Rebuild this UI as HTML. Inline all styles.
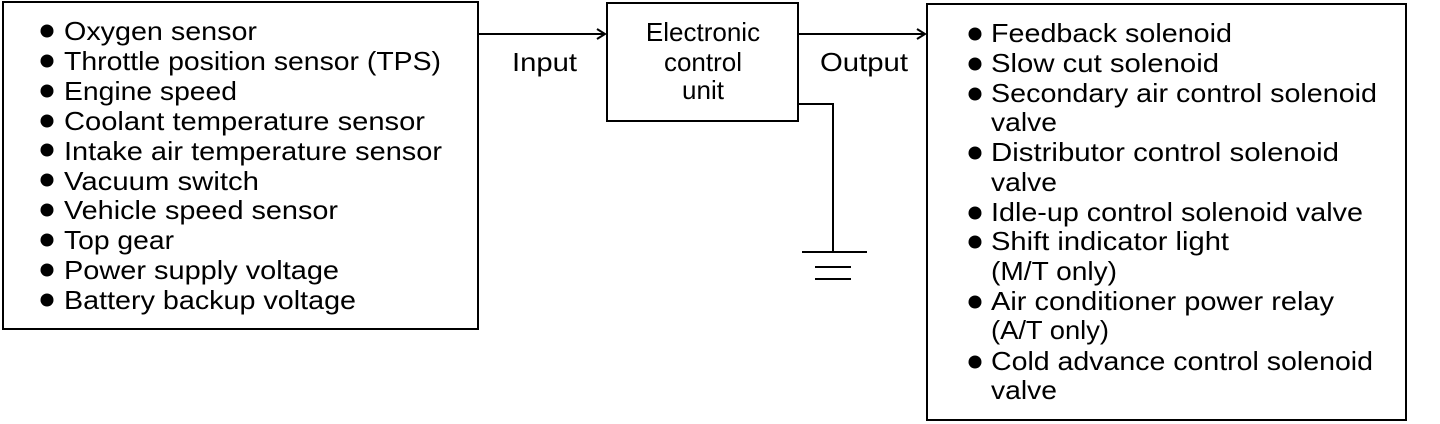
<!DOCTYPE html>
<html><head><style>html,body{margin:0;padding:0;background:#fff}svg{display:block}</style></head>
<body>
<svg width="1440" height="424" viewBox="0 0 1440 424" xmlns="http://www.w3.org/2000/svg" font-family="Liberation Sans, sans-serif" font-size="26" fill="#000">
<g fill="none" stroke="#000" stroke-width="2">
<rect x="3" y="2" width="475" height="327"/>
<rect x="607" y="3" width="191" height="118"/>
<rect x="927" y="4" width="479" height="416"/>
<line x1="478" y1="34" x2="605" y2="34"/>
<polyline points="597,29 605,34 597,39"/>
<line x1="798" y1="34" x2="925" y2="34"/>
<polyline points="917,29 925,34 917,39"/>
<polyline points="798,104 833,104 833,252"/>
<line x1="802" y1="252" x2="867" y2="252"/>
<line x1="815" y1="267" x2="851" y2="267"/>
<line x1="815" y1="279" x2="851" y2="279"/>
</g>
<g>
<circle cx="47" cy="31" r="6.5"/><circle cx="47" cy="61" r="6.5"/><circle cx="47" cy="91" r="6.5"/><circle cx="47" cy="121" r="6.5"/><circle cx="47" cy="150" r="6.5"/><circle cx="47" cy="180" r="6.5"/><circle cx="47" cy="210" r="6.5"/><circle cx="47" cy="240" r="6.5"/><circle cx="47" cy="270" r="6.5"/><circle cx="47" cy="300" r="6.5"/>
</g>
<g lengthAdjust="spacingAndGlyphs">
<text x="64" y="40" textLength="193" lengthAdjust="spacingAndGlyphs">Oxygen sensor</text>
<text x="64" y="70" textLength="377" lengthAdjust="spacingAndGlyphs">Throttle position sensor (TPS)</text>
<text x="64" y="100" textLength="173" lengthAdjust="spacingAndGlyphs">Engine speed</text>
<text x="64" y="130" textLength="361" lengthAdjust="spacingAndGlyphs">Coolant temperature sensor</text>
<text x="64" y="160" textLength="378" lengthAdjust="spacingAndGlyphs">Intake air temperature sensor</text>
<text x="64" y="190" textLength="195" lengthAdjust="spacingAndGlyphs">Vacuum switch</text>
<text x="64" y="219" textLength="274" lengthAdjust="spacingAndGlyphs">Vehicle speed sensor</text>
<text x="64" y="249" textLength="110" lengthAdjust="spacingAndGlyphs">Top gear</text>
<text x="64" y="279" textLength="275" lengthAdjust="spacingAndGlyphs">Power supply voltage</text>
<text x="64" y="309" textLength="292" lengthAdjust="spacingAndGlyphs">Battery backup voltage</text>
</g>
<text x="512" y="71" textLength="65" lengthAdjust="spacingAndGlyphs">Input</text>
<text x="820" y="71" textLength="88" lengthAdjust="spacingAndGlyphs">Output</text>
<text x="703" y="41" text-anchor="middle">Electronic</text>
<text x="703" y="71" text-anchor="middle">control</text>
<text x="703" y="99" text-anchor="middle">unit</text>
<g>
<circle cx="975" cy="34" r="6.5"/><circle cx="975" cy="64" r="6.5"/><circle cx="975" cy="94" r="6.5"/><circle cx="975" cy="153" r="6.5"/><circle cx="975" cy="213" r="6.5"/><circle cx="975" cy="242" r="6.5"/><circle cx="975" cy="302" r="6.5"/><circle cx="975" cy="362" r="6.5"/>
</g>
<text x="991" y="42" textLength="241" lengthAdjust="spacingAndGlyphs">Feedback solenoid</text>
<text x="991" y="72" textLength="228" lengthAdjust="spacingAndGlyphs">Slow cut solenoid</text>
<text x="991" y="102" textLength="386" lengthAdjust="spacingAndGlyphs">Secondary air control solenoid</text>
<text x="991" y="131" textLength="66" lengthAdjust="spacingAndGlyphs">valve</text>
<text x="991" y="161" textLength="348" lengthAdjust="spacingAndGlyphs">Distributor control solenoid</text>
<text x="991" y="191" textLength="66" lengthAdjust="spacingAndGlyphs">valve</text>
<text x="991" y="221" textLength="372" lengthAdjust="spacingAndGlyphs">Idle-up control solenoid valve</text>
<text x="991" y="250" textLength="238" lengthAdjust="spacingAndGlyphs">Shift indicator light</text>
<text x="991" y="280" textLength="126" lengthAdjust="spacingAndGlyphs">(M/T only)</text>
<text x="991" y="310" textLength="343" lengthAdjust="spacingAndGlyphs">Air conditioner power relay</text>
<text x="991" y="339" textLength="118" lengthAdjust="spacingAndGlyphs">(A/T only)</text>
<text x="991" y="370" textLength="382" lengthAdjust="spacingAndGlyphs">Cold advance control solenoid</text>
<text x="991" y="399" textLength="66" lengthAdjust="spacingAndGlyphs">valve</text>
</svg>
</body></html>
